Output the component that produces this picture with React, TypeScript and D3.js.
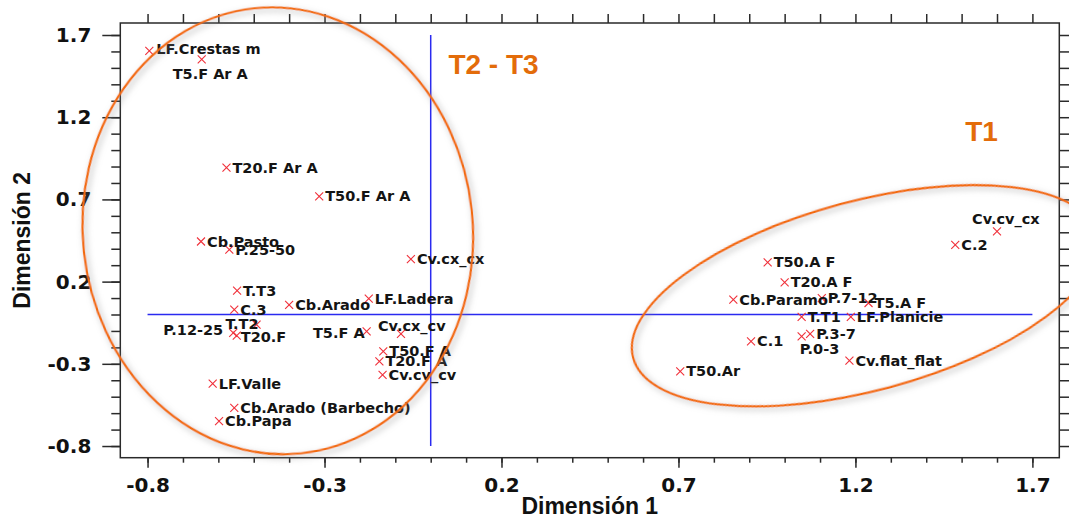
import React, { useEffect, useRef } from 'react';
import * as d3 from 'd3';

// Correspondence analysis: category coordinates on dimensions 1 and 2
const categories = [
  'LF.Crestas m', 'T5.F Ar A', 'T20.F Ar A', 'T50.F Ar A', 'Cb.Pasto', 'P.25-50',
  'Cv.cx_cx', 'T.T3', 'C.3', 'Cb.Arado', 'LF.Ladera', 'T.T2', 'P.12-25', 'T20.F',
  'T5.F A', 'Cv.cx_cv', 'T50.F A', 'T20.F A', 'Cv.cv_cv', 'LF.Valle',
  'Cb.Arado (Barbecho)', 'Cb.Papa',
  'Cv.cv_cx', 'C.2', 'T50.A F', 'T20.A F', 'Cb.Paramo', 'P.7-12', 'T5.A F', 'T.T1',
  'LF.Planicie', 'P.3-7', 'P.0-3', 'C.1', 'Cv.flat_flat', 'T50.Ar',
];
const dim1 = [
  -0.795, -0.647, -0.577, -0.315, -0.649, -0.569,
  -0.056, -0.547, -0.555, -0.400, -0.175, -0.492, -0.558, -0.548,
  -0.181, -0.084, -0.134, -0.145, -0.136, -0.616,
  -0.555, -0.598,
  1.600, 1.482, 0.952, 1.000, 0.855, 1.105, 1.237, 1.048,
  1.187, 1.072, 1.048, 0.905, 1.183, 0.705,
];
const dim2 = [
  1.603, 1.552, 0.894, 0.718, 0.444, 0.394,
  0.337, 0.145, 0.029, 0.058, 0.096, -0.062, -0.112, -0.129,
  -0.103, -0.118, -0.224, -0.285, -0.367, -0.420,
  -0.568, -0.649,
  0.505, 0.424, 0.317, 0.195, 0.090, 0.100, 0.070, -0.015,
  -0.015, -0.118, -0.133, -0.163, -0.281, -0.346,
];

const majorTicks = [-0.8, -0.3, 0.2, 0.7, 1.2, 1.7];
const minorTicks = d3.range(-8, 18).map(i => i / 10);

// cluster ellipses (data units) and their names
const clusterNames = ['T2 - T3', 'T1'];
const clusterCenters = [[-0.432, 0.509], [1.227, 0.114]];
const clusterRadii = [[0.551, 1.361], [0.678, 0.577]];
const clusterAngles = [-6, -15];
const clusterLabelAt = [[0.05, 1.46], [1.51, 1.056]];

// labels that are not placed to the right of their marker
const labelPlacement: Record<string, { dx: number; dy: number; anchor?: string }> = {
  'LF.Crestas m': { dx: 7, dy: 3 },
  'T5.F Ar A': { dx: -29, dy: 20 },
  'T.T2': { dx: 2, dy: 4, anchor: 'end' },
  'P.12-25': { dx: -10, dy: 2, anchor: 'end' },
  'T20.F': { dx: 4, dy: 6 },
  'T5.F A': { dx: -2, dy: 6.5, anchor: 'end' },
  'Cv.cx_cv': { dx: -23, dy: -3 },
  'Cv.cv_cx': { dx: -25, dy: -7 },
  'P.0-3': { dx: -2, dy: 18 },
};

const W = 1069;
const H = 518;
const frame = { left: 120.3, right: 1059.3, top: 23, bottom: 457.7 };
const tickFont = '"DejaVu Sans", sans-serif';
const titleFont = '"Liberation Sans", Arial, sans-serif';

export default function App() {
  const svgRef = useRef<SVGSVGElement>(null);

  useEffect(() => {
    if (!svgRef.current) return;
    const svg = d3.select(svgRef.current);
    svg.selectAll('*').remove();

    const x = d3.scaleLinear().domain([-0.877, 1.776]).range([frame.left, frame.right]);
    const y = d3.scaleLinear().domain([-0.871, 1.773]).range([frame.bottom, frame.top]);

    const defs = svg.append('defs');
    const f = defs.append('filter').attr('id', 'glow')
      .attr('x', '-10%').attr('y', '-10%').attr('width', '120%').attr('height', '120%');
    f.append('feDropShadow')
      .attr('dx', 2).attr('dy', 3).attr('stdDeviation', 3)
      .attr('flood-color', '#8a8a8a').attr('flood-opacity', 0.7);

    svg.append('rect').attr('width', W).attr('height', H).attr('fill', '#fff');

    // Axes: minor then major ticks
    const fmt = (d: any) => (+d).toFixed(1);
    const axisColor = '#2a2a2a';

    const styleAxis = (g: any) => {
      g.select('.domain').remove();
      g.selectAll('line').attr('stroke', axisColor).attr('stroke-width', 1.5);
      g.selectAll('text')
        .attr('fill', '#111')
        .style('font-family', tickFont)
        .style('font-weight', 'bold')
        .style('font-size', '20px');
    };

    svg.append('g').attr('transform', `translate(${frame.left},0)`)
      .call(d3.axisLeft(y).tickValues(minorTicks).tickSize(9).tickFormat(() => ''))
      .call(styleAxis);
    svg.append('g').attr('transform', `translate(${frame.left},0)`)
      .call(d3.axisLeft(y).tickValues(majorTicks).tickSize(18).tickPadding(11).tickFormat(fmt))
      .call(styleAxis);
    svg.append('g').attr('transform', `translate(${frame.right},0)`)
      .call(d3.axisRight(y).tickValues(minorTicks).tickSize(10).tickFormat(() => ''))
      .call(styleAxis);

    svg.append('g').attr('transform', `translate(0,${frame.bottom})`)
      .call(d3.axisBottom(x).tickValues(minorTicks).tickSize(5).tickFormat(() => ''))
      .call(styleAxis);
    svg.append('g').attr('transform', `translate(0,${frame.bottom})`)
      .call(d3.axisBottom(x).tickValues(majorTicks).tickSize(10).tickPadding(10).tickFormat(fmt))
      .call(styleAxis);
    svg.append('g').attr('transform', `translate(0,${frame.top})`)
      .call(d3.axisTop(x).tickValues(minorTicks).tickSize(9).tickFormat(() => ''))
      .call(styleAxis);

    svg.append('rect')
      .attr('x', frame.left).attr('y', frame.top)
      .attr('width', frame.right - frame.left).attr('height', frame.bottom - frame.top)
      .attr('fill', 'none').attr('stroke', axisColor).attr('stroke-width', 1.5);

    // Axis titles
    svg.append('text')
      .attr('x', (frame.left + frame.right) / 2).attr('y', 514)
      .attr('text-anchor', 'middle')
      .style('font-family', titleFont).style('font-weight', 'bold').style('font-size', '23px')
      .attr('fill', '#111')
      .text('Dimensión 1');
    svg.append('text')
      .attr('transform', `translate(30,${(frame.top + frame.bottom) / 2}) rotate(-90)`)
      .attr('text-anchor', 'middle')
      .style('font-family', titleFont).style('font-weight', 'bold').style('font-size', '23px')
      .attr('fill', '#111')
      .text('Dimensión 2');

    // Origin lines
    const blue = '#2a2af0';
    svg.append('line')
      .attr('x1', x(-0.8)).attr('x2', x(1.7)).attr('y1', y(0)).attr('y2', y(0))
      .attr('stroke', blue).attr('stroke-width', 1.5);
    svg.append('line')
      .attr('x1', x(0)).attr('x2', x(0)).attr('y1', y(1.7)).attr('y2', y(-0.8))
      .attr('stroke', blue).attr('stroke-width', 1.5);

    // Points
    const pts = categories.map((name, i) => ({ name, d1: dim1[i], d2: dim2[i] }));
    const s = 4;
    const marks = svg.append('g');
    pts.forEach(p => {
      const px = x(p.d1);
      const py = y(p.d2);
      marks.append('path')
        .attr('d', `M${px - s},${py - s}L${px + s},${py + s}M${px - s},${py + s}L${px + s},${py - s}`)
        .attr('stroke', '#f0303a').attr('stroke-width', 1.1).attr('fill', 'none');
    });
    const labels = svg.append('g');
    pts.forEach(p => {
      const pl = labelPlacement[p.name] || { dx: 6, dy: 5 };
      labels.append('text')
        .attr('x', x(p.d1) + pl.dx).attr('y', y(p.d2) + pl.dy)
        .attr('text-anchor', pl.anchor || 'start')
        .style('font-family', tickFont).style('font-weight', 'bold').style('font-size', '14.5px')
        .attr('fill', '#141414')
        .text(p.name);
    });

    // Cluster ellipses
    const orange = '#f26a10';
    clusterNames.forEach((name, i) => {
      const [c1, c2] = clusterCenters[i];
      const [r1, r2] = clusterRadii[i];
      const cx = x(c1);
      const cy = y(c2);
      svg.append('ellipse')
        .attr('transform', `translate(${cx},${cy}) rotate(${clusterAngles[i]})`)
        .attr('rx', x(c1 + r1) - cx).attr('ry', cy - y(c2 + r2))
        .attr('fill', 'none').attr('stroke', orange).attr('stroke-width', 2.2)
        .attr('filter', 'url(#glow)');
      svg.append('text')
        .attr('x', x(clusterLabelAt[i][0])).attr('y', y(clusterLabelAt[i][1]))
        .style('font-family', titleFont).style('font-weight', 'bold').style('font-size', '28px')
        .attr('fill', '#e36c0a')
        .text(name);
    });
  }, []);

  return (
    <div style={{ position: 'absolute', left: 0, top: 0 }}>
      <svg ref={svgRef} width={W} height={H} style={{ display: 'block' }} />
    </div>
  );
}
